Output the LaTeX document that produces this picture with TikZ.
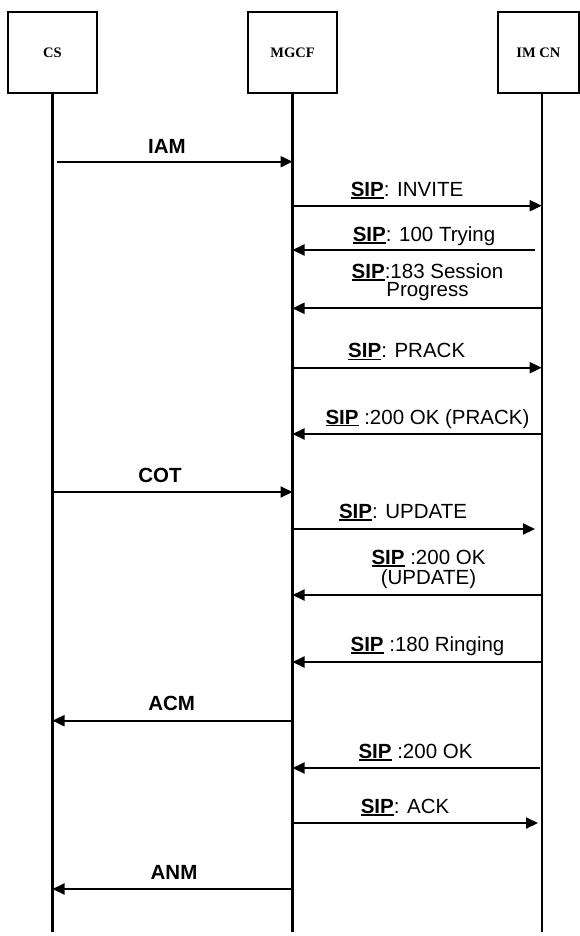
\documentclass[tikz,border=0pt]{standalone}
\usepackage{fontspec}
\setmainfont{Liberation Sans}
\newfontfamily\entityfont{Liberation Serif}
\usetikzlibrary{arrows.meta}
\newcommand{\sip}{\leavevmode\setbox0\hbox{\textbf{SIP}}\rlap{\rule[-2.4pt]{\wd0}{1.5pt}}\box0}

\begin{document}
\begin{tikzpicture}[x=1pt, y=-1pt,
  entity/.style = {shape=rectangle, draw, line width=2pt,
    minimum width=88.8pt, minimum height=81.4pt, inner sep=0pt,
    font=\entityfont\bfseries\fontsize{14.5}{16}\selectfont},
  lifeline/.style = {line width=2.1pt},
  msg/.style = {line width=2pt, -{Triangle[length=12pt,width=11pt]}},
  lbl/.style = {anchor=base, inner sep=0pt, align=center,
    font=\fontsize{20.5}{20.5}\selectfont},
  isup/.style = {lbl, font=\bfseries\fontsize{20.5}{20.5}\selectfont}]
  \useasboundingbox (0,0) rectangle (580,936);
  % entities
  \node[entity] (cs)   at (52.5,52.5)  {CS};
  \node[entity] (mgcf) at (292.5,52.5) {MGCF};
  \node[entity, minimum width=80.8pt] (imcn) at (538.4,52.5) {IM CN};
  % lifelines
  \coordinate (cs-end)   at (52.5,932);
  \coordinate (mgcf-end) at (292.5,932);
  \coordinate (imcn-top) at (541.7,93.2);
  \coordinate (imcn-end) at (541.7,932);
  \draw[lifeline] (cs.south) -- (cs-end);
  \draw[lifeline] (mgcf.south) -- (mgcf-end);
  \draw[lifeline] (imcn-top) -- (imcn-end);
  % messages
  \foreach \name/\xa/\xb/\y in {iam/57/292.5/161.7, invite/292.5/541.7/205.7,
      trying/535/292.5/250, progress/541.7/292.5/308.3,
      prack/292.5/541.7/367.7, prackok/541.7/292.5/434,
      cot/51/292.5/492, update/292.5/535/529,
      updateok/541.7/292.5/595, ringing/541.7/292.5/662,
      acm/292.5/52.5/720.7, ok/540/292.5/768,
      ack/292.5/538/823, anm/292.5/52.5/889}
  {
    \coordinate (\name-a) at (\xa,\y);
    \coordinate (\name-b) at (\xb,\y);
    \draw[msg] (\name-a) -- (\name-b);
  }
  % labels (base of a two-line label is its last line)
  \node[isup] (iam-txt)      at (167,153.1)   {IAM};
  \node[lbl]  (invite-txt)   at (407,196.3)   {\sip: INVITE};
  \node[lbl]  (trying-txt)   at (424,241.3)   {\sip: 100 Trying};
  \node[lbl, font=\fontsize{20.5}{18.4}\selectfont]
              (progress-txt) at (427.5,296.7) {\sip:183 Session\\Progress};
  \node[lbl]  (prack-txt)    at (406.7,357.8) {\sip: PRACK};
  \node[lbl]  (prackok-txt)  at (427.5,424)   {\sip\ :200 OK (PRACK)};
  \node[isup] (cot-txt)      at (160,482.3)   {COT};
  \node[lbl]  (update-txt)   at (403,518.3)   {\sip: UPDATE};
  \node[lbl]  (updateok-txt) at (428.5,584.8) {\sip\ :200 OK\\(UPDATE)};
  \node[lbl]  (ringing-txt)  at (427.5,651.3) {\sip\ :180 Ringing};
  \node[isup] (acm-txt)      at (171.7,710.3) {ACM};
  \node[lbl]  (ok-txt)       at (415.5,758.3) {\sip\ :200 OK};
  \node[lbl]  (ack-txt)      at (405,813.3)   {\sip: ACK};
  \node[isup] (anm-txt)      at (174,879.3)   {ANM};
\end{tikzpicture}
\end{document}
